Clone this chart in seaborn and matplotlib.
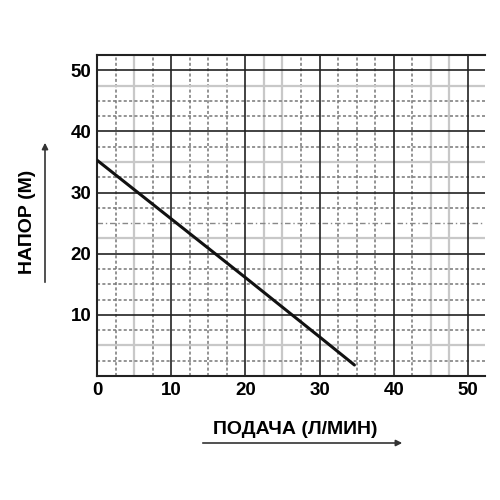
import matplotlib
matplotlib.use("Agg")
import matplotlib.pyplot as plt
import seaborn as sns
import pandas as pd

flow = [0, 10, 20, 30, 34.7]
head = [35.3, 25.7, 16.1, 6.4, 1.8]
x_ticks = [0, 10, 20, 30, 40, 50]
y_ticks = [10, 20, 30, 40, 50]
x_label = "ПОДАЧА (Л/МИН)"
y_label = "НАПОР (М)"

sns.set_style("white")
plt.rcParams['font.family'] = ['Liberation Sans', 'DejaVu Sans']
plt.rcParams['text.color'] = 'black'
plt.rcParams['xtick.color'] = 'black'
plt.rcParams['ytick.color'] = 'black'

fig = plt.figure(figsize=(5, 5), dpi=100)
ax = fig.add_axes([0.194, 0.248, 0.776, 0.642])
ax.set_xlim(0, 52.3)
ax.set_ylim(0, 52.5)

light = dict(color='#c8c8c8', lw=1.6, ls='-')
dash = dict(color='#777777', lw=1.1, ls=(0, (2, 1.5)))
dashdot = dict(color='#888888', lw=1.0, ls=(0, (4, 2, 1, 2)))
major = dict(color='#222222', lw=1.2, ls='-')

v_minor = {2.5: dash, 5: light, 7.5: dash, 12.5: dash, 15: dash, 17.5: dash,
           22.5: light, 25: light, 27.5: dash, 32.5: dash, 35: dash, 37.5: dash,
           42.5: dash, 45: light, 47.5: light}
h_minor = {2.5: dash, 5: light, 7.5: dash, 12.5: dash, 15: dash, 17.5: dash,
           22.5: light, 25: dashdot, 27.5: dash, 32.5: dash, 35: light, 37.5: dash,
           42.5: dash, 45: dash, 47.5: light}
for v, st in v_minor.items():
    ax.axvline(v, zorder=1, **st)
for h, st in h_minor.items():
    ax.axhline(h, zorder=1, **st)
for v in [10, 20, 30, 40, 50]:
    ax.axvline(v, zorder=2, **major)
for h in [10, 20, 30, 40, 50]:
    ax.axhline(h, zorder=2, **major)

df = pd.DataFrame({"flow": flow, "head": head})
sns.lineplot(data=df, x="flow", y="head", ax=ax, color='#111111', lw=2.2, zorder=5)

ax.set_xticks(x_ticks)
ax.set_yticks(y_ticks)
ax.tick_params(length=0, labelsize=13.5, pad=4, labelcolor='black')
for t in ax.get_xticklabels() + ax.get_yticklabels():
    t.set_fontweight('bold')
ax.set_xlabel("")
ax.set_ylabel("")
for s in ['left', 'top', 'bottom']:
    ax.spines[s].set_visible(True)
    ax.spines[s].set_color('#222222')
    ax.spines[s].set_linewidth(1.5)
ax.spines['right'].set_visible(False)

fig.text(0.59, 0.14, x_label, ha='center', va='center', fontsize=14, fontweight='bold', color='black')
fig.text(0.056, 0.556, y_label, ha='center', va='center', fontsize=14, fontweight='bold', color='black', rotation=90)
fig.patches.append(matplotlib.patches.FancyArrowPatch((0.4, 0.114), (0.81, 0.114), transform=fig.transFigure,
                   arrowstyle='-|>', mutation_scale=9, color='#333333', lw=1.2))
fig.patches.append(matplotlib.patches.FancyArrowPatch((0.09, 0.43), (0.09, 0.72), transform=fig.transFigure,
                   arrowstyle='-|>', mutation_scale=9, color='#333333', lw=1.2))

fig.savefig("out.png", dpi=100, facecolor='white')
